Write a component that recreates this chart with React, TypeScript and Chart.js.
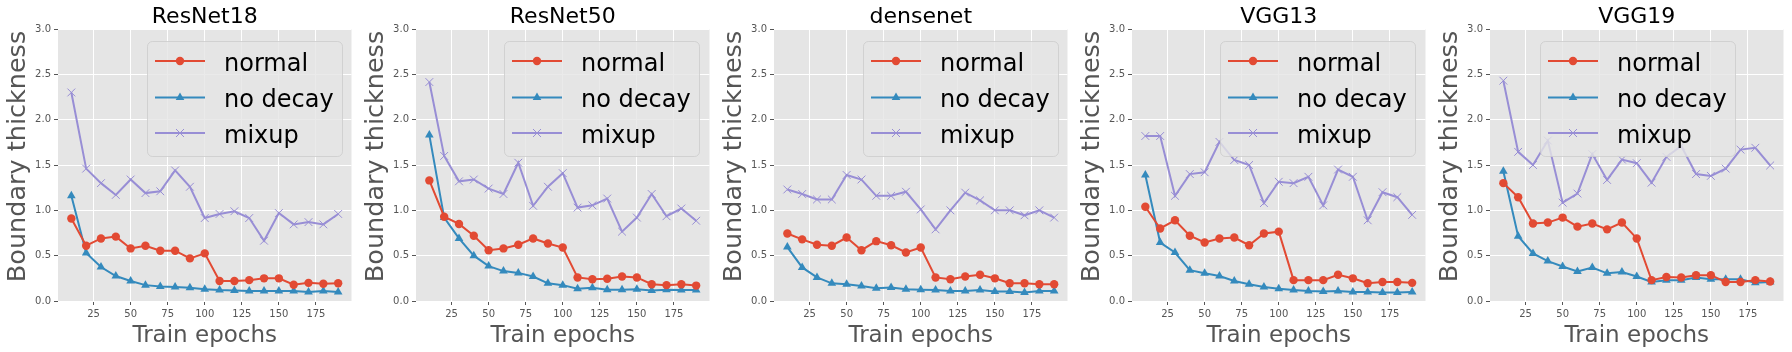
import React, { useEffect, useRef } from "react";
import { Chart, registerables } from "chart.js";
Chart.register(...registerables);

const EPOCHS = [10, 20, 30, 40, 50, 60, 70, 80, 90, 100, 110, 120, 130, 140, 150, 160, 170, 180, 190];
const X_TICKS = [25, 50, 75, 100, 125, 150, 175];
const Y_TICKS = [0, 0.5, 1.0, 1.5, 2.0, 2.5, 3.0];
const MODELS = ["ResNet18", "ResNet50", "densenet", "VGG13", "VGG19"];
const SERIES_NAMES = ["normal", "no decay", "mixup"];
const SERIES_COLORS = ["#E24A33", "#348ABD", "#988ED5"];
const X_LABEL = "Train epochs";
const Y_LABEL = "Boundary thickness";

const resnet18Normal = [0.91, 0.61, 0.69, 0.71, 0.58, 0.61, 0.555, 0.555, 0.47, 0.525, 0.22, 0.22, 0.23, 0.25, 0.25, 0.18, 0.2, 0.19, 0.195];
const resnet18NoDecay = [1.16, 0.53, 0.375, 0.275, 0.22, 0.175, 0.16, 0.155, 0.145, 0.13, 0.12, 0.115, 0.11, 0.11, 0.11, 0.11, 0.1, 0.11, 0.1];
const resnet18Mixup = [2.3, 1.46, 1.3, 1.17, 1.34, 1.19, 1.21, 1.44, 1.26, 0.915, 0.96, 0.99, 0.915, 0.665, 0.97, 0.845, 0.87, 0.845, 0.96];

const resnet50Normal = [1.33, 0.93, 0.85, 0.72, 0.56, 0.58, 0.62, 0.69, 0.635, 0.59, 0.26, 0.24, 0.245, 0.27, 0.26, 0.185, 0.175, 0.185, 0.17];
const resnet50NoDecay = [1.83, 0.92, 0.69, 0.5, 0.385, 0.33, 0.31, 0.27, 0.195, 0.175, 0.135, 0.145, 0.125, 0.125, 0.13, 0.115, 0.125, 0.12, 0.12];
const resnet50Mixup = [2.415, 1.6, 1.32, 1.34, 1.24, 1.18, 1.525, 1.05, 1.26, 1.41, 1.03, 1.055, 1.13, 0.765, 0.92, 1.18, 0.935, 1.02, 0.885];

const densenetNormal = [0.745, 0.68, 0.62, 0.61, 0.7, 0.56, 0.66, 0.615, 0.535, 0.59, 0.26, 0.24, 0.27, 0.29, 0.25, 0.195, 0.195, 0.185, 0.185];
const densenetNoDecay = [0.595, 0.37, 0.26, 0.195, 0.185, 0.165, 0.14, 0.15, 0.13, 0.125, 0.12, 0.11, 0.11, 0.12, 0.105, 0.105, 0.095, 0.11, 0.11];
const densenetMixup = [1.23, 1.18, 1.12, 1.12, 1.39, 1.34, 1.16, 1.16, 1.205, 1.01, 0.79, 1.0, 1.195, 1.11, 1.0, 1.0, 0.945, 1.0, 0.92];

const vgg13Normal = [1.04, 0.8, 0.89, 0.72, 0.645, 0.69, 0.7, 0.615, 0.745, 0.765, 0.23, 0.23, 0.23, 0.29, 0.25, 0.195, 0.21, 0.21, 0.2];
const vgg13NoDecay = [1.39, 0.645, 0.535, 0.34, 0.305, 0.275, 0.22, 0.185, 0.155, 0.135, 0.12, 0.11, 0.105, 0.11, 0.1, 0.1, 0.095, 0.095, 0.1];
const vgg13Mixup = [1.82, 1.82, 1.16, 1.4, 1.42, 1.755, 1.555, 1.5, 1.08, 1.315, 1.3, 1.37, 1.055, 1.45, 1.37, 0.89, 1.2, 1.145, 0.95];

const vgg19Normal = [1.3, 1.145, 0.855, 0.865, 0.92, 0.82, 0.855, 0.79, 0.865, 0.69, 0.23, 0.265, 0.26, 0.285, 0.285, 0.21, 0.21, 0.23, 0.215];
const vgg19NoDecay = [1.43, 0.715, 0.525, 0.44, 0.38, 0.325, 0.37, 0.305, 0.32, 0.27, 0.21, 0.23, 0.23, 0.26, 0.24, 0.24, 0.24, 0.2, 0.21];
const vgg19Mixup = [2.43, 1.645, 1.5, 1.77, 1.085, 1.185, 1.62, 1.335, 1.56, 1.52, 1.305, 1.59, 1.71, 1.4, 1.38, 1.46, 1.67, 1.69, 1.495];

const PANEL_SERIES = [
  [resnet18Normal, resnet18NoDecay, resnet18Mixup],
  [resnet50Normal, resnet50NoDecay, resnet50Mixup],
  [densenetNormal, densenetNoDecay, densenetMixup],
  [vgg13Normal, vgg13NoDecay, vgg13Mixup],
  [vgg19Normal, vgg19NoDecay, vgg19Mixup],
];
const LEGEND_OFFSETS = [89, 88, 89, 88, 50];

const FONT = "'DejaVu Sans', sans-serif";
const PANEL_W = 358;
const PANEL_H = 352;

function drawMarker(ctx: CanvasRenderingContext2D, kind: number, x: number, y: number, color: string) {
  ctx.save();
  ctx.fillStyle = color;
  ctx.strokeStyle = color;
  if (kind === 0) {
    ctx.beginPath();
    ctx.arc(x, y, 4.2, 0, Math.PI * 2);
    ctx.fill();
  } else if (kind === 1) {
    const r = 5;
    ctx.beginPath();
    for (let i = 0; i < 3; i++) {
      const a = (i * 2 * Math.PI) / 3;
      const px = x + Math.sin(a) * r;
      const py = y - Math.cos(a) * r;
      if (i === 0) ctx.moveTo(px, py);
      else ctx.lineTo(px, py);
    }
    ctx.closePath();
    ctx.fill();
  } else {
    ctx.lineWidth = 1;
    const d = 4;
    ctx.beginPath();
    ctx.moveTo(x - d, y - d);
    ctx.lineTo(x + d, y + d);
    ctx.moveTo(x - d, y + d);
    ctx.lineTo(x + d, y - d);
    ctx.stroke();
  }
  ctx.restore();
}

const decoPlugin = {
  id: "deco",
  afterDraw(chart: any) {
    const opts = chart.options.plugins.deco;
    const ctx: CanvasRenderingContext2D = chart.ctx;
    const a = chart.chartArea;
    ctx.save();
    // title
    ctx.fillStyle = "#000000";
    ctx.font = `22px ${FONT}`;
    ctx.textAlign = "center";
    ctx.textBaseline = "alphabetic";
    ctx.fillText(opts.title, (a.left + a.right) / 2, 23);
    // x label
    ctx.fillStyle = "#555555";
    ctx.font = `23px ${FONT}`;
    ctx.fillText(X_LABEL, (a.left + a.right) / 2, 342);
    // y label
    ctx.save();
    ctx.translate(25, 156.5);
    ctx.rotate(-Math.PI / 2);
    ctx.font = `25.5px ${FONT}`;
    ctx.fillText(Y_LABEL, 0, 0);
    ctx.restore();
    // legend
    const bx = a.left + opts.legendOffset;
    const by = 41;
    const bw = 195;
    const bh = 115;
    ctx.beginPath();
    (ctx as any).roundRect(bx + 0.5, by + 0.5, bw, bh, 5);
    ctx.fillStyle = "rgba(229,229,229,0.8)";
    ctx.fill();
    ctx.strokeStyle = "rgba(204,204,204,0.8)";
    ctx.lineWidth = 1;
    ctx.stroke();
    const rows = [61, 97.5, 133];
    for (let i = 0; i < 3; i++) {
      const y = rows[i];
      ctx.strokeStyle = SERIES_COLORS[i];
      ctx.lineWidth = 2;
      ctx.beginPath();
      ctx.moveTo(bx + 8, y);
      ctx.lineTo(bx + 58, y);
      ctx.stroke();
      drawMarker(ctx, i, bx + 33, y, SERIES_COLORS[i]);
      ctx.fillStyle = "#000000";
      ctx.font = `24px ${FONT}`;
      ctx.textAlign = "left";
      ctx.textBaseline = "alphabetic";
      ctx.fillText(SERIES_NAMES[i], bx + 77, y + 9.5);
    }
    ctx.restore();
  },
};

const bgPlugin = {
  id: "bg",
  beforeDraw(chart: any) {
    const ctx = chart.ctx;
    const a = chart.chartArea;
    ctx.save();
    ctx.fillStyle = "#FFFFFF";
    ctx.fillRect(0, 0, chart.width, chart.height);
    ctx.fillStyle = "#E5E5E5";
    ctx.fillRect(a.left, a.top, a.right - a.left, a.bottom - a.top);
    ctx.restore();
  },
};

function Panel({ index }: { index: number }) {
  const ref = useRef<HTMLCanvasElement | null>(null);
  useEffect(() => {
    if (!ref.current) return;
    const series = PANEL_SERIES[index];
    const styles = ["circle", "triangle", "crossRot"];
    const radii = [4.2, 5, 5.5];
    const chart = new Chart(ref.current, {
      type: "line",
      data: {
        datasets: series.map((vals, i) => ({
          label: SERIES_NAMES[i],
          data: EPOCHS.map((e, k) => ({ x: e, y: vals[k] })),
          borderColor: SERIES_COLORS[i],
          backgroundColor: SERIES_COLORS[i],
          pointBackgroundColor: SERIES_COLORS[i],
          pointBorderColor: SERIES_COLORS[i],
          pointStyle: styles[i] as any,
          pointRadius: radii[i],
          pointBorderWidth: i === 2 ? 1 : 0,
          borderWidth: 2,
          tension: 0,
          fill: false,
        })),
      },
      options: {
        animation: false,
        responsive: false,
        devicePixelRatio: 1,
        layout: { padding: { left: 0, right: 3, top: 29, bottom: 0 } },
        plugins: {
          legend: { display: false },
          tooltip: { enabled: false },
          title: { display: false },
          deco: { title: MODELS[index], legendOffset: LEGEND_OFFSETS[index] },
        } as any,
        scales: {
          x: {
            type: "linear",
            min: 1,
            max: 199,
            afterBuildTicks: (s: any) => {
              s.ticks = X_TICKS.map((v) => ({ value: v }));
            },
            afterFit: (s: any) => {
              s.height = 51;
            },
            grid: { color: "#FFFFFF", lineWidth: 1, tickColor: "#555555", tickLength: 4, drawTicks: true },
            border: { display: false },
            ticks: { color: "#555555", font: { family: FONT, size: 10 }, padding: 3, maxRotation: 0, autoSkip: false },
          },
          y: {
            type: "linear",
            min: 0,
            max: 3,
            afterBuildTicks: (s: any) => {
              s.ticks = Y_TICKS.map((v) => ({ value: v }));
            },
            afterFit: (s: any) => {
              s.width = 58;
            },
            grid: { color: "#FFFFFF", lineWidth: 1, tickColor: "#555555", tickLength: 4, drawTicks: true },
            border: { display: false },
            ticks: {
              color: "#555555",
              font: { family: FONT, size: 10 },
              padding: 3,
              autoSkip: false,
              callback: (v: any) => Number(v).toFixed(1),
            },
          },
        },
      },
      plugins: [bgPlugin, decoPlugin],
    });
    return () => chart.destroy();
  }, [index]);
  return (
    <canvas
      ref={ref}
      width={PANEL_W}
      height={PANEL_H}
      style={{ position: "absolute", left: index * PANEL_W, top: 0, width: PANEL_W, height: PANEL_H }}
    />
  );
}

export default function App() {
  return (
    <div style={{ position: "fixed", left: 0, top: 0, width: 1792, height: 352, background: "#FFFFFF" }}>
      {MODELS.map((m, i) => (
        <Panel key={m} index={i} />
      ))}
    </div>
  );
}
